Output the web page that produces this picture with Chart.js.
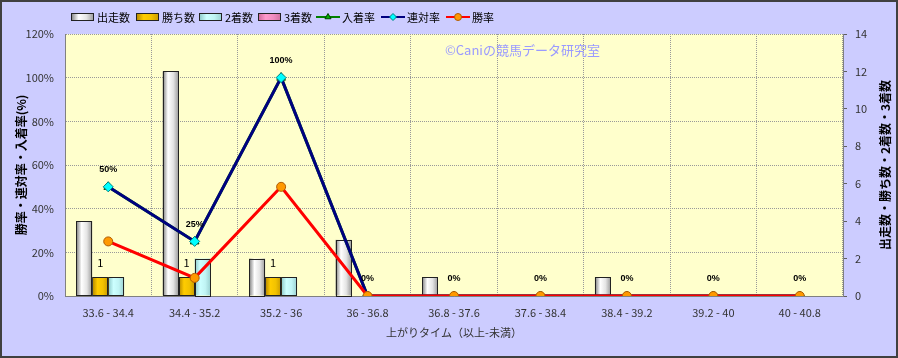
<!DOCTYPE html>
<html>
<head>
<meta charset="utf-8">
<script src="https://cdn.jsdelivr.net/npm/chart.js@4.4.6/dist/chart.umd.min.js"></script>
<style>
    html, body { margin: 0; padding: 0; background: #ccccff; }
    #wrap { width: 898px; height: 358px; }
</style>
</head>
<body>
<div id="wrap"><canvas id="chartAgari" width="898" height="358"></canvas></div>
<script>
// 上がりタイム別成績
const categories = ['33.6 - 34.4', '34.4 - 35.2', '35.2 - 36', '36 - 36.8', '36.8 - 37.6',
                    '37.6 - 38.4', '38.4 - 39.2', '39.2 - 40', '40 - 40.8'];
const runners      = [4, 12, 2, 3, 1, 0, 1, 0, 0];
const wins         = [1, 1, 1, 0, 0, 0, 0, 0, 0];
const seconds      = [1, 2, 1, 0, 0, 0, 0, 0, 0];
const thirds       = [0, 0, 0, 0, 0, 0, 0, 0, 0];
const placeRate    = [50, 25, 100, 0, 0, 0, 0, 0, 0];
const quinellaRate = [50, 25, 100, 0, 0, 0, 0, 0, 0];
const winRate      = [25, 8.3, 50, 0, 0, 0, 0, 0, 0];
const rateMax = 120, rateStep = 20;
const countMax = 14, countStep = 2;

const JP = '"Noto Sans CJK JP", "Noto Sans", sans-serif';
const legendX = [71, 136, 199, 258, 316, 381, 446];

// 棒グラフをグラデーションで描く
const barPaint = {
    id: 'barPaint',
    beforeDatasetDraw(chart, args) {
        const meta = args.meta;
        if (meta.type !== 'bar') return;
        const ds = chart.data.datasets[args.index];
        const ctx = chart.ctx;
        ctx.save();
        meta.data.forEach(el => {
            const p = el.getProps(['x', 'y', 'base', 'width'], true);
            const h = p.base - p.y;
            if (h < 0.5) return;
            const l = p.x - p.width / 2;
            const g = ctx.createLinearGradient(l, 0, l + p.width, 0);
            ds.shade.forEach((c, i) => g.addColorStop(i / (ds.shade.length - 1), c));
            ctx.fillStyle = g;
            ctx.fillRect(l, p.y, p.width, h);
            ctx.strokeStyle = '#222';
            ctx.lineWidth = 1;
            ctx.strokeRect(Math.round(l) + 0.5, Math.round(p.y) + 0.5, Math.round(p.width) - 1, Math.round(h));
        });
        ctx.restore();
        return false;
    }
};

// 背景
const bgPaint = {
    id: 'bgPaint',
    beforeDraw(chart) {
        const {ctx, chartArea: a} = chart;
        ctx.save();
        ctx.fillStyle = '#ccccff';
        ctx.fillRect(0, 0, chart.width, chart.height);
        ctx.fillStyle = '#ffffcc';
        ctx.fillRect(a.left, a.top, a.right - a.left, a.bottom - a.top);
        ctx.restore();
    }
};

// 凡例・軸タイトル・ラベル
const extras = {
    id: 'extras',
    afterDraw(chart) {
        const ctx = chart.ctx;
        const a = chart.chartArea;
        ctx.save();

        // data labels: 勝ち数
        ctx.fillStyle = '#000';
        ctx.textAlign = 'center';
        ctx.textBaseline = 'middle';
        ctx.font = '11px ' + JP;
        chart.getDatasetMeta(1).data.forEach((el, i) => {
            if (wins[i] > 0) ctx.fillText(String(wins[i]), el.x, el.y - 14);
        });
        // data labels: 連対率
        ctx.font = 'bold 9px "Liberation Sans", sans-serif';
        chart.getDatasetMeta(5).data.forEach((el, i) => {
            ctx.fillText(Math.round(quinellaRate[i]) + '%', el.x, el.y - 17);
        });

        // watermark
        ctx.font = '13px ' + JP;
        ctx.fillStyle = '#9a9aff';
        ctx.textAlign = 'left';
        ctx.fillText('©Caniの競馬データ研究室', 445, 50);

        // axis titles
        ctx.fillStyle = '#000';
        ctx.font = 'bold 12px ' + JP;
        ctx.textAlign = 'center';
        const midY = (a.top + a.bottom) / 2;
        ctx.save();
        ctx.translate(21, midY);
        ctx.rotate(-Math.PI / 2);
        ctx.fillText('勝率・連対率・入着率(%)', 0, 0);
        ctx.restore();
        ctx.save();
        ctx.translate(885, midY);
        ctx.rotate(-Math.PI / 2);
        ctx.fillText('出走数・勝ち数・2着数・3着数', 0, 0);
        ctx.restore();
        ctx.font = '11px ' + JP;
        ctx.fillStyle = '#333';
        ctx.fillText('上がりタイム（以上-未満）', (a.left + a.right) / 2, 333);

        // legend
        const ly = 17;
        ctx.font = '11px ' + JP;
        ctx.textAlign = 'left';
        chart.data.datasets.forEach((ds, k) => {
            const x = legendX[k];
            if (ds.type === 'bar') {
                const g = ctx.createLinearGradient(x, 0, x + 23, 0);
                ds.shade.forEach((c, i) => g.addColorStop(i / (ds.shade.length - 1), c));
                ctx.fillStyle = g;
                ctx.fillRect(x, ly - 3, 23, 7);
                ctx.strokeStyle = '#222';
                ctx.lineWidth = 1;
                ctx.strokeRect(x + 0.5, ly - 3.5, 22, 7);
            } else {
                ctx.strokeStyle = ds.borderColor;
                ctx.lineWidth = 2;
                ctx.beginPath();
                ctx.moveTo(x, ly);
                ctx.lineTo(x + 24, ly);
                ctx.stroke();
                ctx.fillStyle = ds.pointBackgroundColor;
                ctx.strokeStyle = ds.pointBorderColor;
                ctx.lineWidth = 1;
                Chart.helpers.drawPoint(ctx, {pointStyle: ds.pointStyle, radius: 3.5, rotation: 0, borderWidth: 1}, x + 12, ly);
            }
            ctx.fillStyle = '#000';
            ctx.fillText(ds.label, x + 26, ly + 1);
        });

        // frame
        ctx.strokeStyle = '#404040';
        ctx.lineWidth = 2;
        ctx.strokeRect(1, 1, chart.width - 2, chart.height - 2);
        ctx.restore();
    }
};

const tickFont = {family: JP, size: 11};

new Chart(document.getElementById('chartAgari'), {
    data: {
        labels: categories,
        datasets: [
            {type: 'bar', label: '出走数', data: runners, yAxisID: 'y2', order: 10,
             backgroundColor: '#dddddd', shade: ['#7c7c7c', '#ffffff', '#e4e4e4', '#9a9a9a']},
            {type: 'bar', label: '勝ち数', data: wins, yAxisID: 'y2', order: 10,
             backgroundColor: '#ffcc00', shade: ['#b08400', '#ffcc00', '#f2c200', '#c99a00']},
            {type: 'bar', label: '2着数', data: seconds, yAxisID: 'y2', order: 10,
             backgroundColor: '#ccffff', shade: ['#8cc8c8', '#ccffff', '#c0f4f4', '#99d0d0']},
            {type: 'bar', label: '3着数', data: thirds, yAxisID: 'y2', order: 10,
             backgroundColor: '#ff99cc', shade: ['#cc6699', '#ff99cc', '#f08cc0', '#d0709f']},
            {type: 'line', label: '入着率', data: placeRate, yAxisID: 'y', order: 3,
             borderColor: '#008000', borderWidth: 3, pointStyle: 'triangle', pointRadius: 5,
             pointBackgroundColor: '#00b000', pointBorderColor: '#004000', pointBorderWidth: 1},
            {type: 'line', label: '連対率', data: quinellaRate, yAxisID: 'y', order: 2,
             borderColor: '#000080', borderWidth: 3, pointStyle: 'rectRot', pointRadius: 5,
             pointBackgroundColor: '#00ffff', pointBorderColor: '#008080', pointBorderWidth: 1},
            {type: 'line', label: '勝率', data: winRate, yAxisID: 'y', order: 1,
             borderColor: '#ff0000', borderWidth: 3, pointStyle: 'circle', pointRadius: 4.5,
             pointBackgroundColor: '#ff9900', pointBorderColor: '#b05a00', pointBorderWidth: 1}
        ]
    },
    options: {
        responsive: false,
        animation: false,
        devicePixelRatio: 1,
        layout: {padding: {top: 34, left: 0, right: 0, bottom: 0}},
        datasets: {bar: {categoryPercentage: 0.74, barPercentage: 1}},
        plugins: {legend: {display: false}, tooltip: {enabled: false}},
        scales: {
            x: {
                offset: true,
                grid: {offset: true, color: '#999999', drawTicks: false},
                border: {color: '#808080', dash: [1, 1]},
                ticks: {font: tickFont, color: '#333', padding: 10, maxRotation: 0, autoSkip: false},
                afterFit(s) { s.height = 62; }
            },
            y: {
                position: 'left',
                min: 0, max: rateMax,
                grid: {color: '#999999', drawTicks: false},
                border: {color: '#808080', dash: [1, 1]},
                ticks: {stepSize: rateStep, font: tickFont, color: '#333', padding: 11,
                        callback: v => v + '%'},
                afterFit(s) { s.width = 65; }
            },
            y2: {
                position: 'right',
                min: 0, max: countMax,
                grid: {drawOnChartArea: false, color: '#606060', tickLength: 4},
                border: {color: '#808080'},
                ticks: {stepSize: countStep, font: tickFont, color: '#333', padding: 8},
                afterFit(s) { s.width = 55; }
            }
        }
    },
    plugins: [bgPaint, barPaint, extras]
});
</script>
</body>
</html>
